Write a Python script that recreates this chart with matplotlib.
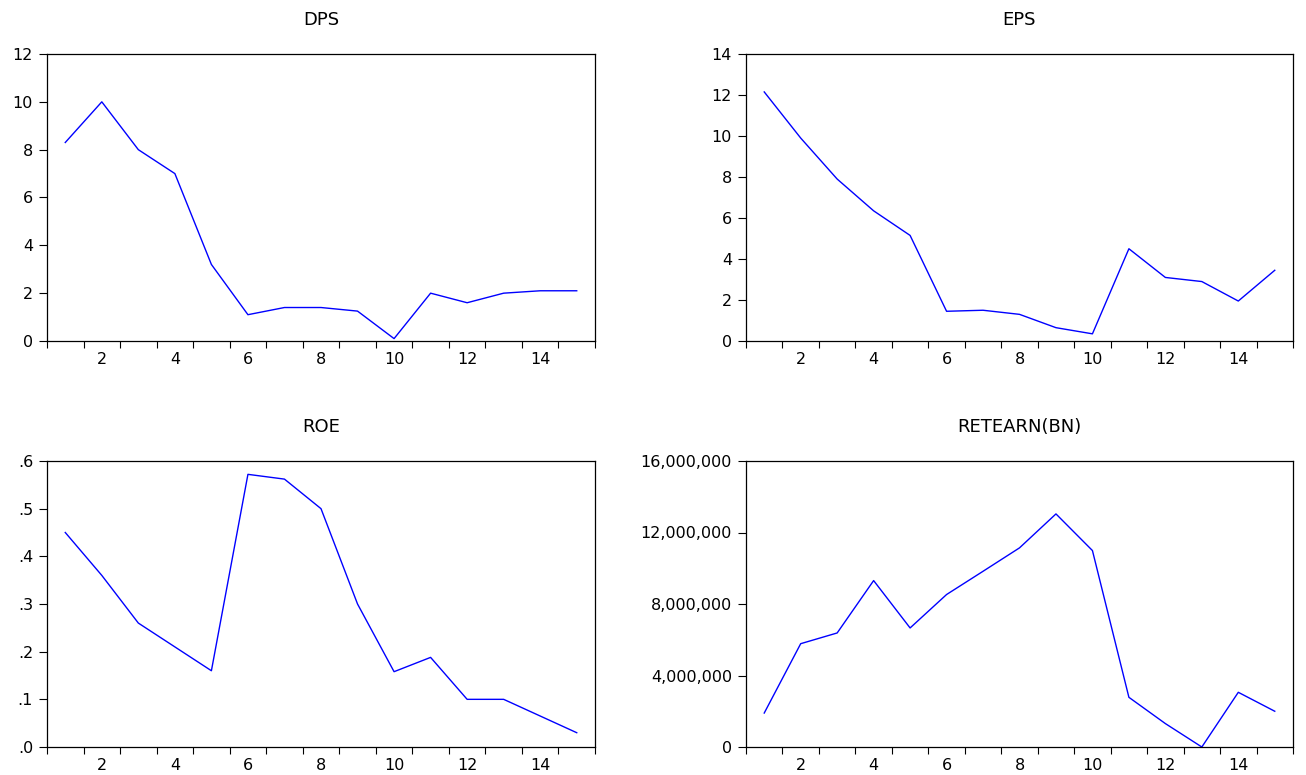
import numpy as np
import matplotlib.pyplot as plt
from matplotlib.ticker import FuncFormatter

plt.rcParams['font.family'] = ['DejaVu Sans']

obs = np.arange(1, 16)
dps = [8.3, 10.0, 8.0, 7.0, 3.2, 1.1, 1.4, 1.4, 1.25, 0.1, 2.0, 1.6, 2.0, 2.1, 2.1]
eps = [12.15, 9.9, 7.9, 6.35, 5.15, 1.45, 1.5, 1.3, 0.65, 0.35, 4.5, 3.1, 2.9, 1.95, 3.45]
roe = [0.45, 0.36, 0.26, 0.21, 0.16, 0.572, 0.562, 0.50, 0.30, 0.158, 0.188, 0.10, 0.10, 0.065, 0.03]
retearn = [1.9e6, 5.78e6, 6.38e6, 9.31e6, 6.66e6, 8.53e6, 9.83e6, 11.14e6, 13.04e6,
           10.99e6, 2.78e6, 1.31e6, 0.0, 3.06e6, 2.0e6]

W, H = 1306, 775
fig = plt.figure(figsize=(W / 100, H / 100), dpi=100)

def box(x0, y0, x1, y1):
    # pixel box -> figure fraction
    return [x0 / W, 1 - y1 / H, (x1 - x0) / W, (y1 - y0) / H]

def panel(rect, y, title, yticks, fmt):
    ax = fig.add_axes(rect)
    ax.plot(obs, y, color='#0000ff', linewidth=1.0)
    ax.set_xlim(0.5, 15.5)
    ax.set_ylim(yticks[0], yticks[-1])
    ax.set_yticks(yticks)
    ax.yaxis.set_major_formatter(FuncFormatter(fmt))
    # ticks between observations, labels at even observations
    ax.set_xticks(np.arange(0.5, 16, 1.0))
    ax.set_xticklabels([])
    ax.set_xticks(np.arange(2, 15, 2), minor=True)
    ax.set_xticklabels([str(v) for v in range(2, 15, 2)], minor=True)
    ax.tick_params(axis='x', which='major', direction='out', length=5, width=0.8)
    ax.tick_params(axis='x', which='minor', length=0, pad=8, labelsize=11.5)
    ax.tick_params(axis='y', direction='out', length=5.5, width=0.8, labelsize=11.5, pad=4.5)
    ax.yaxis.set_minor_locator(plt.NullLocator())
    for s in ax.spines.values():
        s.set_linewidth(0.9)
    ax.set_title(title, fontsize=13, pad=21)
    return ax

plain = lambda v, p: '%d' % round(v)
dotted = lambda v, p: ('%.1f' % v).lstrip('0')
commas = lambda v, p: '{:,.0f}'.format(v)

panel(box(47, 54, 595, 341), dps, 'DPS', [0, 2, 4, 6, 8, 10, 12], plain)
panel(box(746, 54, 1293, 341), eps, 'EPS', [0, 2, 4, 6, 8, 10, 12, 14], plain)
panel(box(47, 461, 595, 747), roe, 'ROE', [0, .1, .2, .3, .4, .5, .6], dotted)
panel(box(746, 461, 1293, 747), retearn, 'RETEARN(BN)',
      [0, 4e6, 8e6, 12e6, 16e6], commas)

fig.savefig('out.png', dpi=100)
